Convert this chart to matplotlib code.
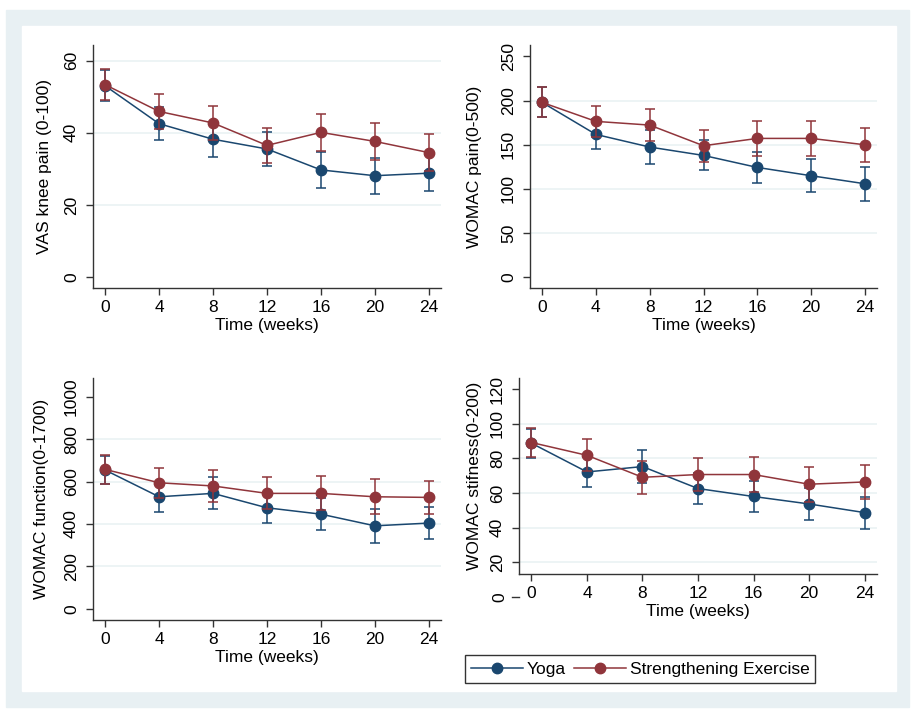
import matplotlib
matplotlib.use('Agg')
import matplotlib.pyplot as plt
from matplotlib.patches import Rectangle
from matplotlib.lines import Line2D

plt.rcParams['font.family'] = ['Liberation Sans', 'DejaVu Sans']

weeks = [0, 4, 8, 12, 16, 20, 24]

vas_yoga = [53.0, 42.5, 38.2, 35.5, 29.7, 28.1, 28.8]
vas_yoga_err = [4.3, 4.6, 4.8, 4.8, 4.9, 5.0, 4.9]
vas_str = [53.3, 45.9, 42.7, 36.5, 40.1, 37.6, 34.5]
vas_str_err = [4.3, 4.8, 4.8, 4.8, 5.2, 5.1, 5.1]

pain_yoga = [197.9, 161.6, 147.3, 137.8, 124.2, 114.8, 105.7]
pain_yoga_err = [17, 17, 19, 17, 18, 19, 19]
pain_str = [197.9, 176.4, 172.2, 148.8, 157.1, 157.1, 149.9]
pain_str_err = [17, 18, 18, 18, 19.5, 19.5, 19]

func_yoga = [654, 528, 544, 476, 446, 391, 404]
func_yoga_err = [67, 71, 76, 72, 76, 80, 77]
func_str = [657, 594, 579, 544, 544, 528, 525]
func_str_err = [67, 72, 75, 75, 80, 82, 79]

stiff_yoga = [88.8, 72.2, 75.3, 62.6, 58.0, 53.7, 48.7]
stiff_yoga_err = [8.3, 8.5, 9.4, 8.9, 9.2, 9.4, 9.2]
stiff_str = [89.2, 81.8, 69.1, 70.7, 70.7, 65.1, 66.4]
stiff_str_err = [8.3, 9.2, 9.4, 9.3, 10, 10, 9.7]

series_names = ['Yoga', 'Strengthening Exercise']
navy = '#1a476f'
maroon = '#90353b'
grid_col = '#eaf2f3'
axis_col = '#333333'

W, H = 916, 712
fig = plt.figure(figsize=(W / 100, H / 100), dpi=100)

# stata style outer region
fig.patches.append(Rectangle((6 / W, 1 - 707 / H), 903 / W, 697 / H,
                             transform=fig.transFigure, color='#e8f0f3', zorder=-10))
fig.patches.append(Rectangle((22 / W, 1 - 691 / H), 874 / W, 665 / H,
                             transform=fig.transFigure, color='white', zorder=-9))


def px_axes(x0, y0, x1, y1):
    return fig.add_axes([x0 / W, 1 - y1 / H, (x1 - x0) / W, (y1 - y0) / H])


panels = [
    dict(box=(93, 45, 441, 288), yoga=vas_yoga, yerr=vas_yoga_err, st=vas_str, serr=vas_str_err,
         ylim=(-3, 64.3), ticks=[0, 20, 40, 60], grid=[20, 40, 60],
         label='VAS knee pain (0-100)', lab_off=41),
    dict(box=(530, 45, 877, 288), yoga=pain_yoga, yerr=pain_yoga_err, st=pain_str, serr=pain_str_err,
         ylim=(-12.5, 263), ticks=[0, 50, 100, 150, 200, 250], grid=[50, 100, 150, 200],
         label='WOMAC pain(0-500)', lab_off=48),
    dict(box=(93, 378, 441, 620), yoga=func_yoga, yerr=func_yoga_err, st=func_str, serr=func_str_err,
         ylim=(-53, 1088), ticks=[0, 200, 400, 600, 800, 1000], grid=[200, 400, 600, 800],
         label='WOMAC function(0-1700)', lab_off=44),
    dict(box=(519, 378, 877, 574), yoga=stiff_yoga, yerr=stiff_yoga_err, st=stiff_str, serr=stiff_str_err,
         ylim=(13.2, 126.5), ticks=[20, 40, 60, 80, 100, 120], grid=[20, 40, 60, 80, 100],
         label='WOMAC stifness(0-200)', lab_off=37),
]

for i, p in enumerate(panels):
    ax = px_axes(*p['box'])
    hpx = p['box'][3] - p['box'][1]
    wpx = p['box'][2] - p['box'][0]
    for g in p['grid']:
        ax.axhline(g, color=grid_col, lw=1.2, zorder=0)
    ax.errorbar(weeks, p['yoga'], yerr=p['yerr'], fmt='-o', color=navy, ms=7.5,
                lw=1.1, elinewidth=1.1, capsize=3.6, capthick=1.1, zorder=3)
    ax.errorbar(weeks, p['st'], yerr=p['serr'], fmt='-o', color=maroon, ms=7.5,
                lw=1.1, elinewidth=1.1, capsize=3.6, capthick=1.1, zorder=4)
    ax.set_xlim(-0.9, 24.9)
    ax.set_ylim(*p['ylim'])
    ax.set_xticks(weeks)
    ax.set_yticks(p['ticks'])
    for s in ['top', 'right']:
        ax.spines[s].set_visible(False)
    for s in ['left', 'bottom']:
        ax.spines[s].set_color(axis_col)
        ax.spines[s].set_linewidth(1.0)
    ax.tick_params(axis='both', colors=axis_col, labelcolor='black', length=5, width=1.0,
                   labelsize=12.5)
    ax.tick_params(axis='x', pad=4)
    ax.tick_params(axis='y', pad=5)
    for t in ax.get_yticklabels():
        t.set_rotation(90)
        t.set_va('center')
    ax.set_xlabel('Time (weeks)', fontsize=12.5)
    ax.xaxis.set_label_coords(0.5, -30 / hpx)
    ax.set_ylabel(p['label'], fontsize=12.5)
    ax.yaxis.set_label_coords(-p['lab_off'] / wpx, 0.5)
    ax.set_facecolor('white')
    if i == 3:
        # tick at 0 sits below the x axis
        y0 = ax.get_yaxis_transform()
        ax.add_line(Line2D([-7 / wpx, 0], [0, 0], transform=y0, color=axis_col,
                           lw=1.0, clip_on=False))
        ax.text(-12 / wpx, 0, '0', transform=y0, rotation=90, ha='right', va='center',
                fontsize=12.5, clip_on=False)

handles = [Line2D([], [], color=navy, marker='o', ms=7.5, lw=1.1),
           Line2D([], [], color=maroon, marker='o', ms=7.5, lw=1.1)]
leg = fig.legend(handles, series_names, loc='center', bbox_to_anchor=(640 / W, 1 - 669 / H),
                 ncol=2, fontsize=12.5, frameon=True, fancybox=False, handlelength=3.0,
                 handletextpad=0.2, columnspacing=0.5, borderpad=0.35)
leg.get_frame().set_edgecolor('black')
leg.get_frame().set_linewidth(1.0)

fig.savefig('out.png', dpi=100)
